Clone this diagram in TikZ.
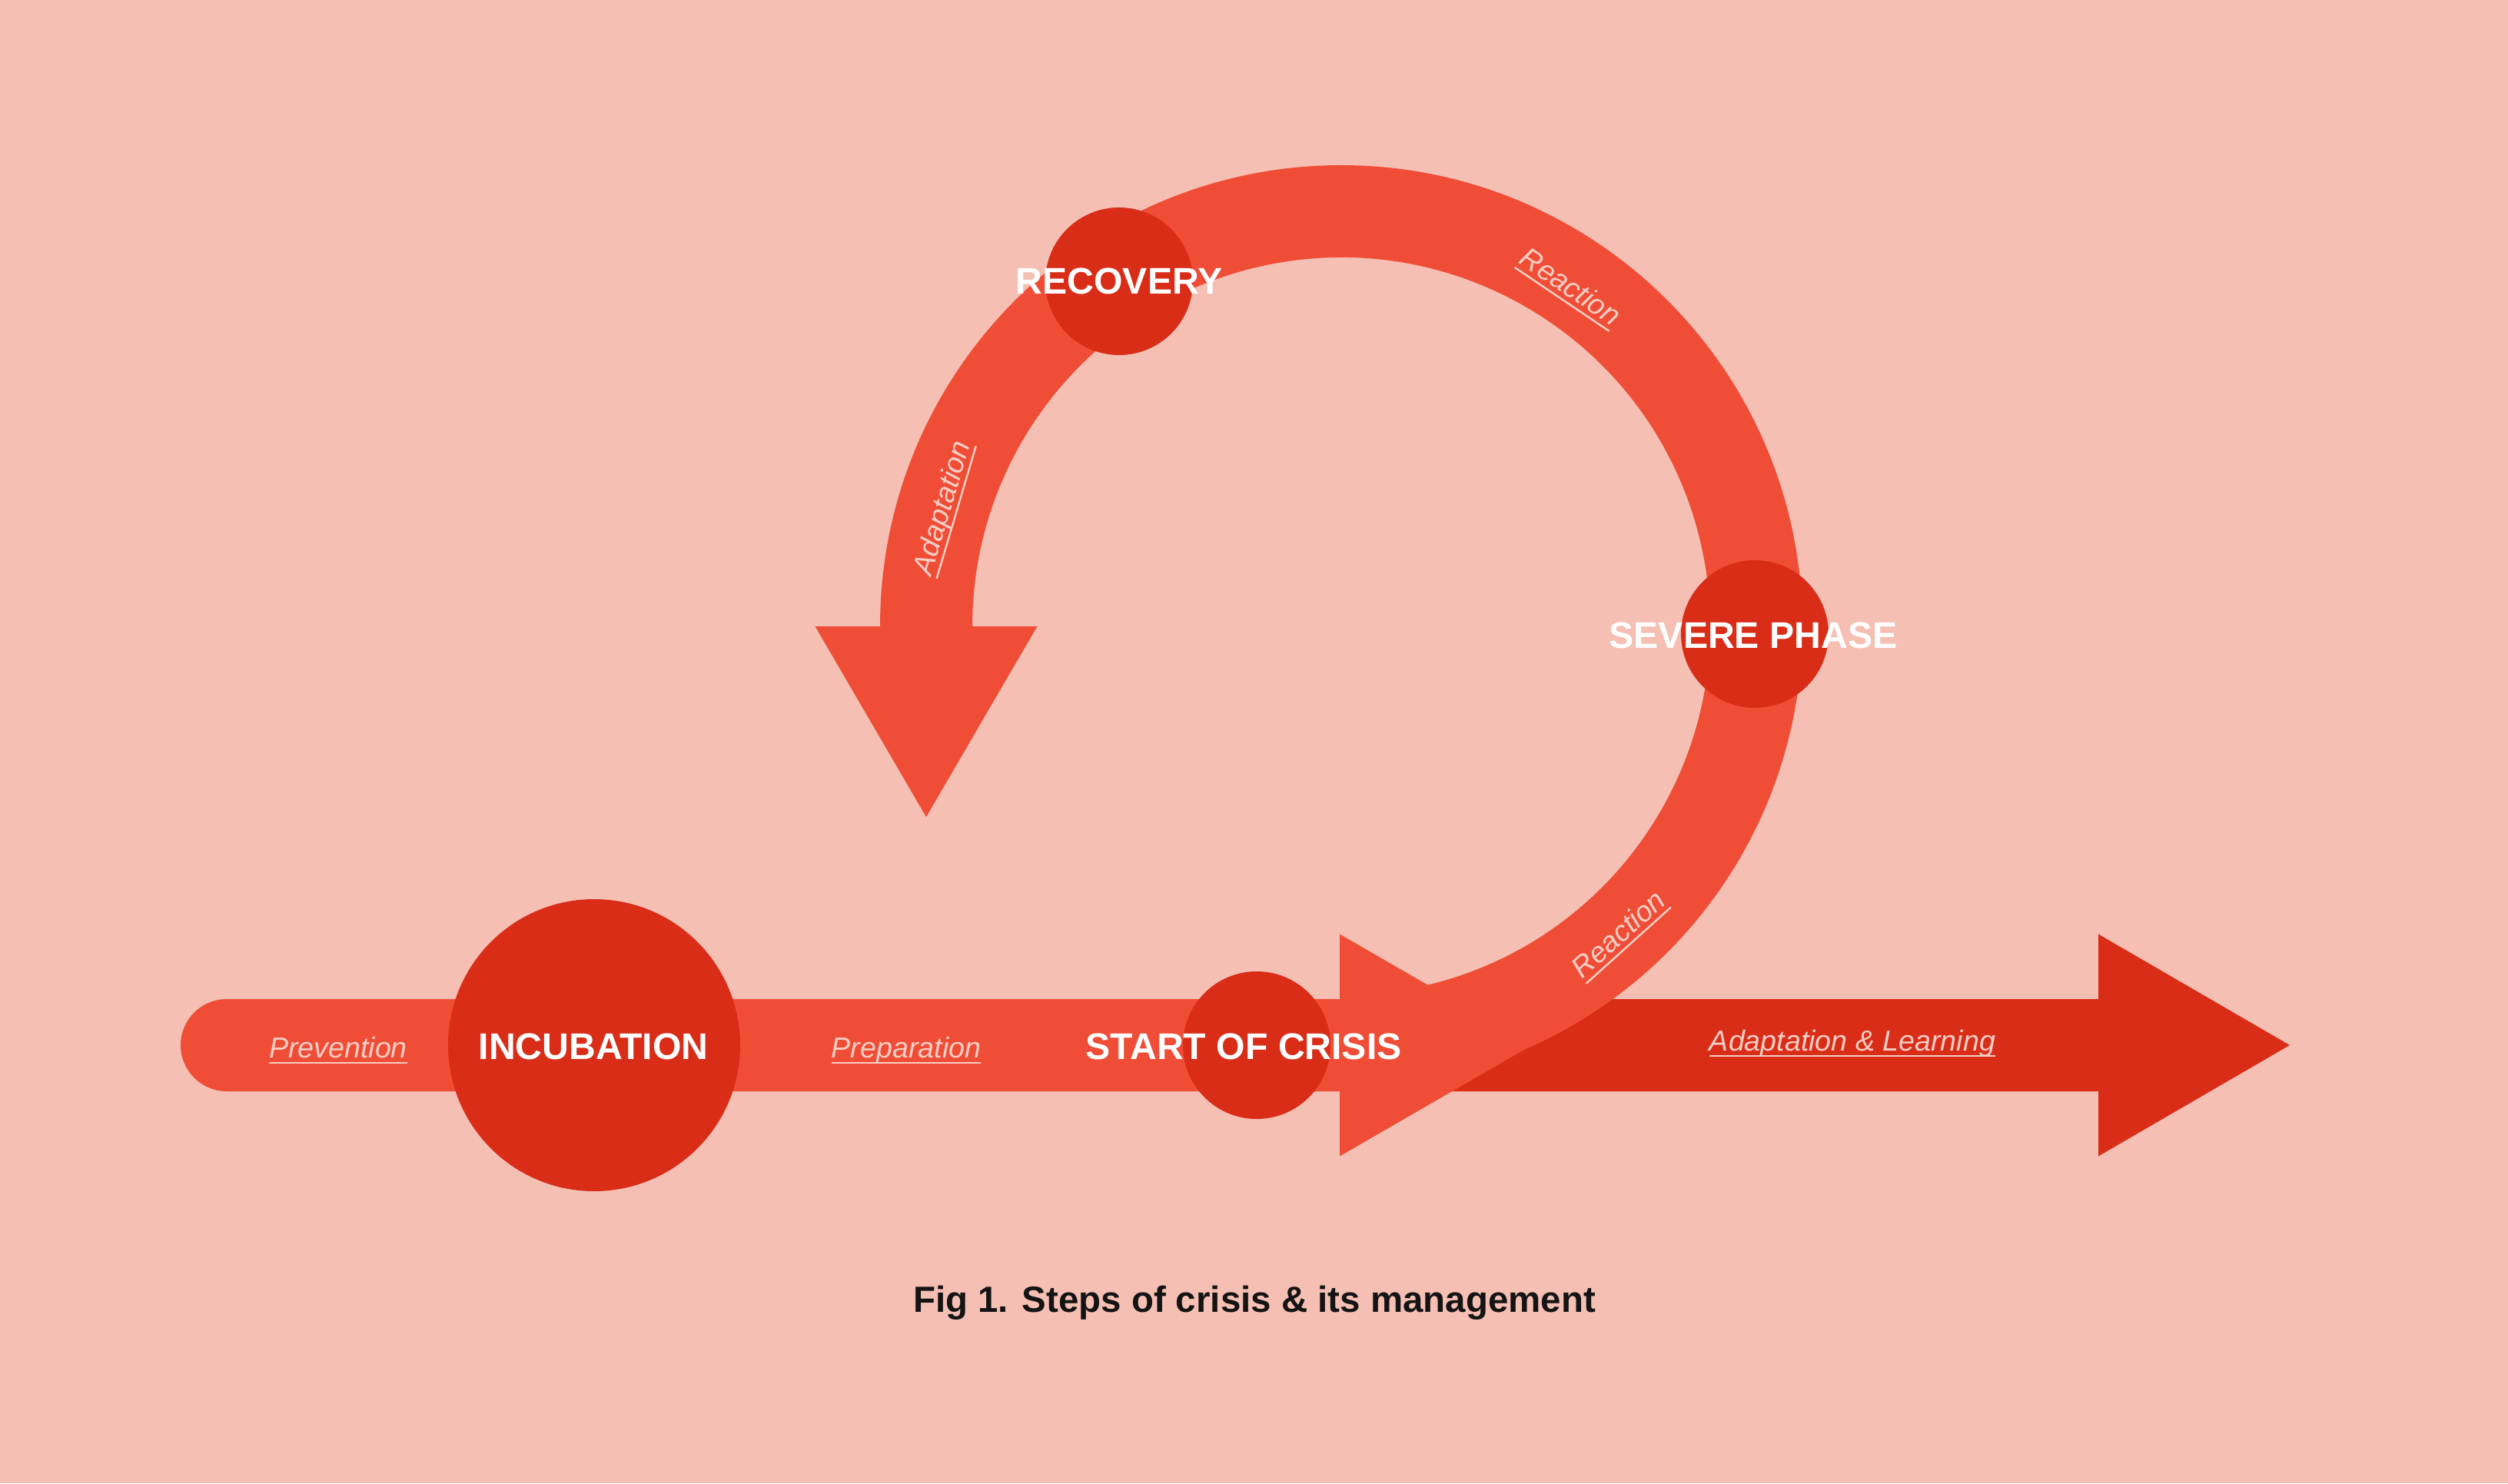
\documentclass[tikz,border=0pt]{standalone}
\usepackage{fontspec}
\setmainfont{Liberation Sans}
\usetikzlibrary{calc}
\definecolor{bgpink}{HTML}{F5BFB3}
\definecolor{band}{HTML}{F04D37}
\definecolor{deep}{HTML}{D92D18}
\definecolor{soft}{HTML}{F8CEC4}
\definecolor{capt}{HTML}{141414}
\newcommand{\ulabel}[1]{\setbox0=\hbox{#1}\rlap{\rule[-2.4pt]{\wd0}{0.7pt}}\box0}
\begin{document}
\begin{tikzpicture}[big/.style={text=white,font=\fontsize{13.7}{16}\selectfont\bfseries,inner sep=0pt},
  lbl/.style={text=soft,font=\fontsize{10.7}{13}\selectfont\itshape,inner sep=0pt},
  phase/.style={circle,fill=deep,inner sep=0pt,minimum size=19.2mm}]
\fill[bgpink] (0,0) rectangle (32.63,19.30);
\coordinate (ctr) at (17.45,11.15);
\coordinate (L) at (2.95,5.70);
\coordinate (H) at (17.43,5.70);
\coordinate (E) at (27.30,5.70);
\fill[deep] ([yshift=-6mm]H) -- ([yshift=-6mm]E) -- ([yshift=-14.45mm]E) -- ([xshift=24.9mm]E)
  -- ([yshift=14.45mm]E) -- ([yshift=6mm]E) -- ([yshift=6mm]H) -- cycle;
\fill[band] ([yshift=-6mm]L) -- ([yshift=-6mm]H) -- ([yshift=-14.45mm]H) -- ([xshift=25mm]H)
  -- ([yshift=14.45mm]H) -- ([yshift=6mm]H) -- ([yshift=6mm]L) arc[start angle=90,end angle=270,radius=6mm] -- cycle;
\fill[band] ($(ctr)+(-6,-0.05)$) -- ($(ctr)+(180:6)$) arc[start angle=180,end angle=-72,radius=6]
  -- ($(ctr)+(-78:4.8)$) arc[start angle=-78,end angle=180,radius=4.8] -- ($(ctr)+(-4.8,-0.05)$) -- cycle;
\fill[band] ($(ctr)+(-6.845,0)$) -- ($(ctr)+(-3.955,0)$) -- ($(ctr)+(-5.4,-2.48)$) -- cycle;
\node[phase,minimum size=38mm] (INC) at (7.73,5.70) {};
\node[phase] (SOC) at (16.35,5.70) {};
\node[phase] (SEV) at (22.83,11.05) {};
\node[phase] (REC) at (14.56,15.64) {};
\node[big,anchor=base] (tINC) at (7.72,5.52) {INCUBATION};
\node[big,anchor=base] (tSOC) at (16.18,5.52) {START OF CRISIS};
\node[big,anchor=base] (tSEV) at (22.81,10.87) {SEVERE PHASE};
\node[big,anchor=base] (tREC) at (14.56,15.47) {RECOVERY};
\node[lbl,anchor=base] (pre) at (4.40,5.54) {\ulabel{Prevention}};
\node[lbl,anchor=base] (prp) at (11.79,5.54) {\ulabel{Preparation}};
\node[lbl,anchor=base] (adl) at (24.10,5.63) {\ulabel{Adaptation \& Learning}};
\node[lbl,rotate=-34] (re1) at ($(ctr)+(56:5.3)$) {\ulabel{Reaction}};
\node[lbl,rotate=42] (re2) at ($(ctr)+(-48:5.42)$) {\ulabel{Reaction}};
\node[lbl,rotate=73.5] (ada) at ($(ctr)+(163.5:5.39)$) {\ulabel{Adaptation}};
\node[font=\fontsize{13.5}{16}\selectfont\bfseries,text=capt,anchor=base] (cap) at (16.32,2.23) {Fig 1. Steps of crisis \& its management};
\end{tikzpicture}
\end{document}
